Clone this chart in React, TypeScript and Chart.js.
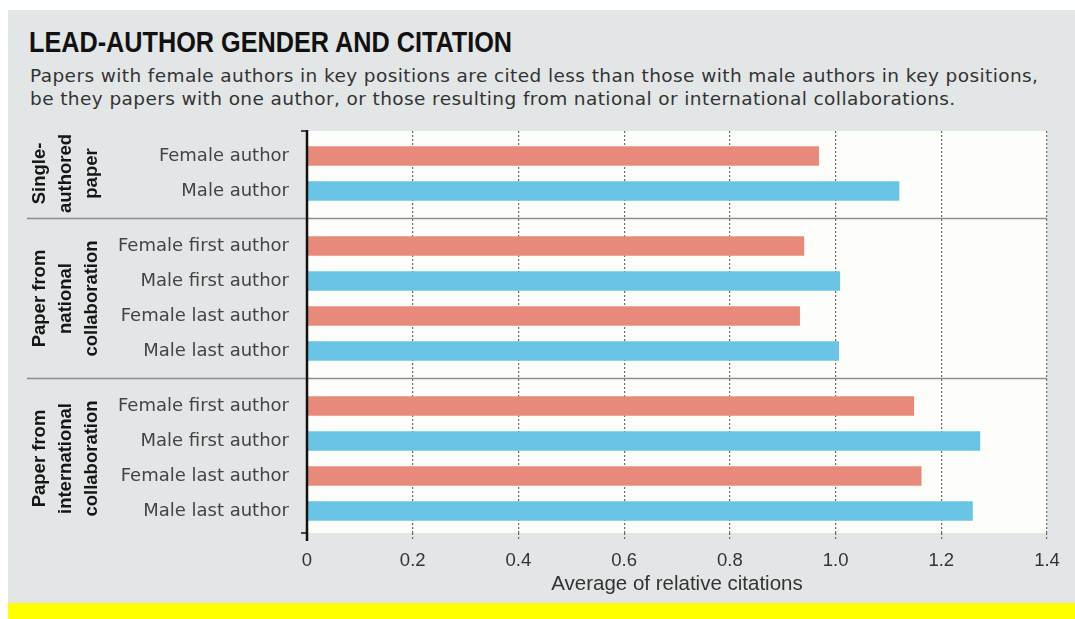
import React, { useEffect, useRef } from "react";
import { Chart, registerables } from "chart.js";

Chart.register(...registerables);

// ---------- Data ----------
const TITLE = "LEAD-AUTHOR GENDER AND CITATION";
const SUBTITLE_LINES = [
  "Papers with female authors in key positions are cited less than those with male authors in key positions,",
  "be they papers with one author, or those resulting from national or international collaborations.",
];
const groupLabels = [
  ["Single-", "authored", "paper"],
  ["Paper from", "national", "collaboration"],
  ["Paper from", "international", "collaboration"],
];
const categories = [
  "Female author",
  "Male author",
  "Female first author",
  "Male first author",
  "Female last author",
  "Male last author",
  "Female first author",
  "Male first author",
  "Female last author",
  "Male last author",
];
const categoryGroup = [0, 0, 1, 1, 1, 1, 2, 2, 2, 2];
const authorGender = ["female", "male", "female", "male", "female", "male", "female", "male", "female", "male"];
const relativeCitations = [0.968, 1.12, 0.94, 1.008, 0.932, 1.006, 1.148, 1.273, 1.162, 1.259];
const xTickValues = [0, 0.2, 0.4, 0.6, 0.8, 1.0, 1.2, 1.4];
const xTickLabels = ["0", "0.2", "0.4", "0.6", "0.8", "1.0", "1.2", "1.4"];
const X_TITLE = "Average of relative citations";

// ---------- Layout / style ----------
const GROUP_GAP = 20 / 35; // extra space between groups, in row units
const rowPos = categories.map((_, i) => i + categoryGroup[i] * GROUP_GAP);
const Y_MIN = -25 / 35;
const Y_MAX = rowPos[rowPos.length - 1] + 22 / 35;
const COLORS: Record<string, string> = { female: "#E88A79", male: "#6AC4E6" };
const BG = "#e3e6e6";
const PLOT_BG = "#fdfdf9";
const SANS = '"Liberation Sans", Arial, sans-serif';
const LABEL_FONT = '"DejaVu Sans", sans-serif';
const GROUP_LINE_X = [40, 66, 92];

const decorPlugin = {
  id: "decor",
  beforeDraw(chart: any) {
    const { ctx, chartArea } = chart;
    ctx.save();
    ctx.fillStyle = PLOT_BG;
    ctx.fillRect(chartArea.left, chartArea.top, chartArea.right - chartArea.left, chartArea.bottom - chartArea.top);
    ctx.restore();
  },
  afterDraw(chart: any) {
    const { ctx, chartArea } = chart;
    const y = chart.scales.y;
    const x = chart.scales.x;
    ctx.save();
    // group separators
    ctx.strokeStyle = "#8c8c8c";
    ctx.lineWidth = 1.5;
    for (let g = 0; g < groupLabels.length - 1; g++) {
      const lastIdx = categoryGroup.lastIndexOf(g);
      const nextIdx = categoryGroup.indexOf(g + 1);
      const yy = (y.getPixelForValue(rowPos[lastIdx]) + y.getPixelForValue(rowPos[nextIdx])) / 2;
      ctx.beginPath();
      ctx.moveTo(27, yy);
      ctx.lineTo(chartArea.right, yy);
      ctx.stroke();
    }
    // axis line with end ticks
    const x0 = x.getPixelForValue(0);
    ctx.strokeStyle = "#111";
    ctx.lineWidth = 2.5;
    ctx.beginPath();
    ctx.moveTo(x0, chartArea.top - 1);
    ctx.lineTo(x0, chartArea.bottom + 8);
    ctx.stroke();
    ctx.lineWidth = 1.5;
    ctx.beginPath();
    ctx.moveTo(x0 - 6, chartArea.top);
    ctx.lineTo(x0, chartArea.top);
    ctx.moveTo(x0 - 6, chartArea.bottom);
    ctx.lineTo(x0, chartArea.bottom);
    ctx.stroke();
    // group labels
    ctx.font = "bold 18.5px " + SANS;
    ctx.fillStyle = "#161616";
    ctx.textAlign = "center";
    ctx.textBaseline = "middle";
    groupLabels.forEach((lines, g) => {
      const first = categoryGroup.indexOf(g);
      const last = categoryGroup.lastIndexOf(g);
      const yc = (y.getPixelForValue(rowPos[first]) + y.getPixelForValue(rowPos[last])) / 2;
      lines.forEach((line, k) => {
        ctx.save();
        ctx.translate(GROUP_LINE_X[k], yc);
        ctx.rotate(-Math.PI / 2);
        ctx.fillText(line, 0, 0);
        ctx.restore();
      });
    });
    ctx.restore();
  },
};

export default function App() {
  const canvasRef = useRef<HTMLCanvasElement | null>(null);

  useEffect(() => {
    if (!canvasRef.current) return;
    const chart = new Chart(canvasRef.current, {
      type: "bar",
      data: {
        datasets: [
          {
            data: relativeCitations.map((v, i) => ({ x: v, y: rowPos[i] })) as any,
            backgroundColor: authorGender.map((g) => COLORS[g]),
            borderWidth: 0,
            barThickness: 19,
          },
        ],
      },
      options: {
        indexAxis: "y",
        animation: false,
        responsive: false,
        maintainAspectRatio: false,
        layout: { padding: { top: 131, right: 28, bottom: 19, left: 0 } },
        plugins: {
          legend: { display: false },
          tooltip: { enabled: false },
          title: { display: false },
        },
        scales: {
          x: {
            type: "linear",
            position: "bottom",
            min: 0,
            max: 1.4,
            afterBuildTicks: (s: any) => {
              s.ticks = xTickValues.map((v) => ({ value: v }));
            },
            afterFit: (s: any) => {
              s.height = 67;
            },
            grid: {
              color: (c: any) => (c.tick && c.tick.value === 0 ? "rgba(0,0,0,0)" : "#6a6a6a"),
              lineWidth: 1.2,
              drawTicks: true,
              tickLength: 7,
              tickColor: (c: any) => (c.tick && c.tick.value === 0 ? "rgba(0,0,0,0)" : "#6a6a6a"),
              tickBorderDash: [2, 2],
              tickWidth: 1.2,
            },
            border: { display: false, dash: [2, 2] },
            ticks: {
              padding: 10,
              color: "#333",
              font: { family: SANS, size: 18.5 },
              autoSkip: false,
              maxRotation: 0,
              callback: (_v: any, i: number) => xTickLabels[i],
            },
            title: {
              display: true,
              text: X_TITLE,
              color: "#333",
              font: { family: SANS, size: 20.5 },
              padding: { top: 0, bottom: 3 },
            },
          },
          y: {
            type: "linear",
            reverse: true,
            offset: false,
            min: Y_MIN,
            max: Y_MAX,
            afterBuildTicks: (s: any) => {
              s.ticks = rowPos.map((v) => ({ value: v }));
            },
            afterFit: (s: any) => {
              s.width = 307;
            },
            grid: { display: false, offset: false },
            border: { display: false },
            ticks: {
              padding: 10,
              color: "#444",
              font: { family: LABEL_FONT, size: 18 },
              autoSkip: false,
              callback: (_v: any, i: number) => categories[i],
            },
          },
        },
      } as any,
      plugins: [decorPlugin],
    });
    return () => chart.destroy();
  }, []);

  return (
    <div style={{ position: "fixed", left: 0, top: 0, width: 1075, height: 619, background: "#fff", overflow: "hidden" }}>
      <div style={{ position: "absolute", left: 8, top: 10, width: 1067, height: 593, background: BG }} />
      <div style={{ position: "absolute", left: 8, top: 603, width: 1067, height: 16, background: "#ffff00" }} />
      <div
        style={{
          position: "absolute",
          left: 29,
          top: 28,
          fontFamily: SANS,
          fontWeight: "bold",
          fontSize: 29,
          lineHeight: "29px",
          color: "#111",
          whiteSpace: "nowrap",
          transform: "scaleX(0.87)",
          transformOrigin: "left top",
        }}
      >
        {TITLE}
      </div>
      <div
        style={{
          position: "absolute",
          left: 30,
          top: 64,
          fontFamily: LABEL_FONT,
          fontSize: 18.5,
          letterSpacing: "0.4px",
          lineHeight: "23px",
          color: "#333",
          whiteSpace: "nowrap",
        }}
      >
        {SUBTITLE_LINES.map((l, i) => (
          <div key={i}>{l}</div>
        ))}
      </div>
      <canvas ref={canvasRef} width={1075} height={619} style={{ position: "absolute", left: 0, top: 0, width: 1075, height: 619 }} />
    </div>
  );
}
